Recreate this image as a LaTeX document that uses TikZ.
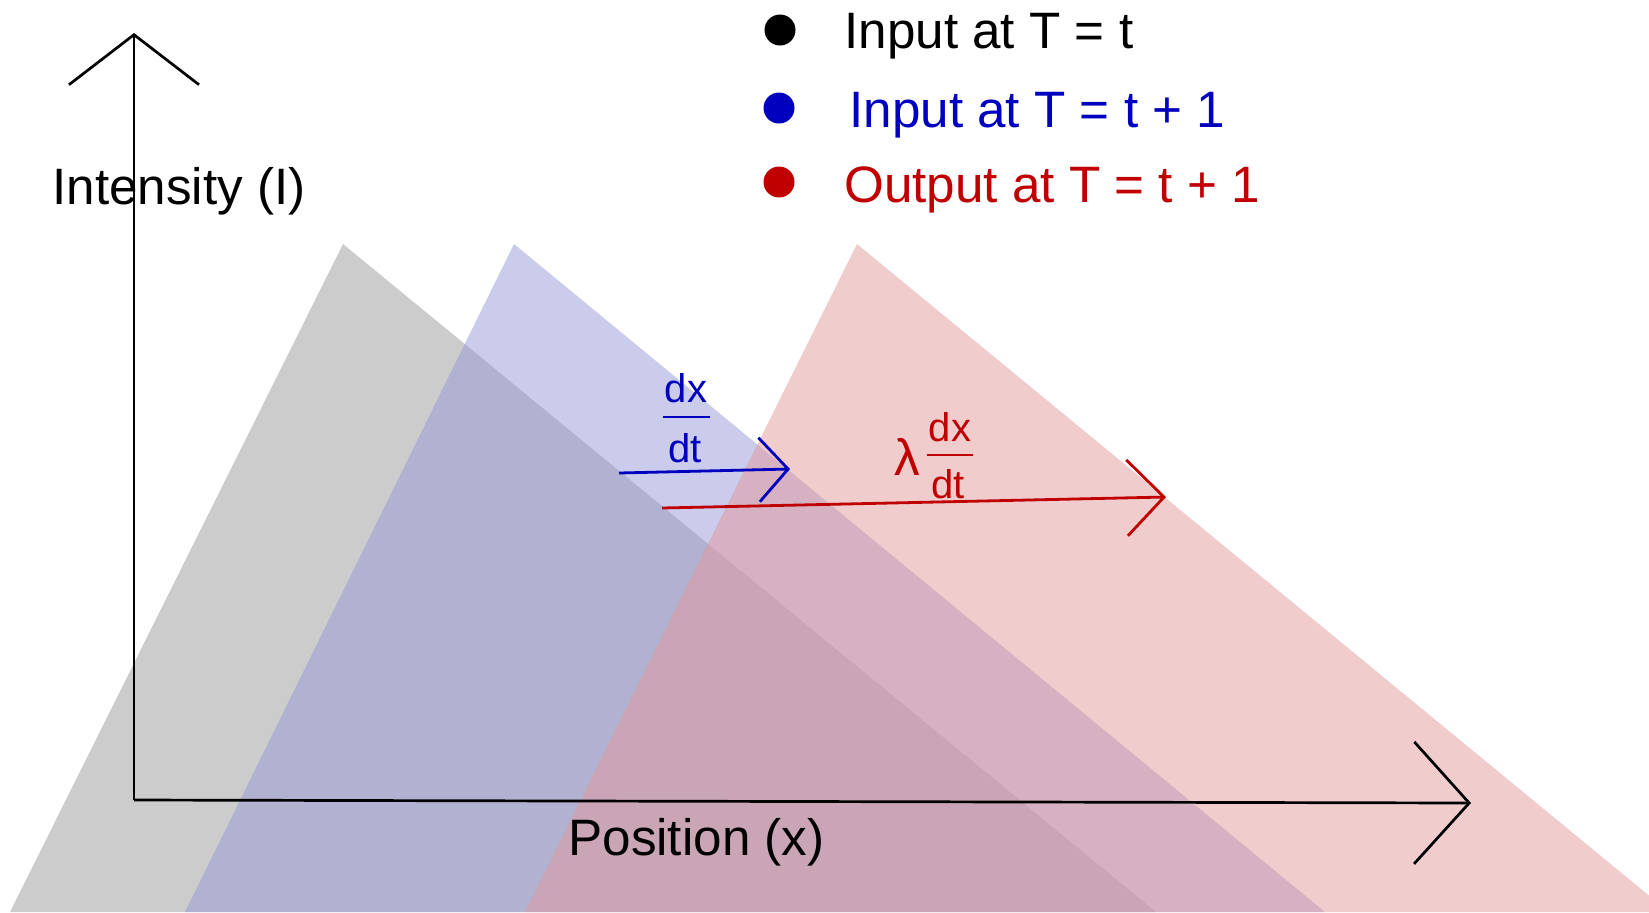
\documentclass[tikz,border=0pt]{standalone}
\usepackage{fontspec}
\setmainfont{Liberation Sans}
\usetikzlibrary{arrows.meta}
\definecolor{wedgegray}{RGB}{153,153,153}
\definecolor{wedgeblue}{RGB}{151,151,217}
\definecolor{wedgered}{RGB}{225,153,153}
\definecolor{inkblue}{RGB}{0,0,190}
\definecolor{inkred}{RGB}{192,0,0}

\begin{document}
\begin{tikzpicture}[x=0.5pt, y=-0.5pt,
    every node/.style={inner sep=0pt, font=\fontsize{25.6}{30}\selectfont},
    wedge/.style={fill opacity=0.5, draw=none},
    legdot/.style={circle, minimum size=15.5pt},
    fracfont/.style={font=\fontsize{20}{24}\selectfont},
    axisline/.style={line width=1.35pt}]
    \useasboundingbox (0,0) rectangle (1649,912);
    \clip (0,0) rectangle (1649,912);
    \fill[wedge, wedgegray] (343,244) -- (10,912) -- (1156,912) -- cycle;
    \fill[wedge, wedgeblue] (514,244) -- (185,912) -- (1325,912) -- cycle;
    \fill[wedge, wedgered] (857,244) -- (525,912) -- (1669,912) -- cycle;
    \coordinate (origin) at (134,800);
    \coordinate (ytip) at (134,33);
    \coordinate (xtip) at (1471,803);
    \draw[axisline, -{Straight Barb[length=25pt, width=65pt]}] (origin) -- (ytip);
    \draw[axisline, -{Straight Barb[length=27.5pt, width=61pt]}] (origin) -- (xtip);
    \node[anchor=base west] (ylabel) at (52,204) {Intensity (I)};
    \node[anchor=base west] (xlabel) at (568,855) {Position (x)};
    \node[legdot, fill=black] (dotin) at (780,30) {};
    \node[legdot, fill=inkblue] (dotnext) at (779,108) {};
    \node[legdot, fill=inkred] (dotout) at (779,182) {};
    \node[anchor=base west] (keyin) at (844,48) {Input at T = t};
    \node[anchor=base west, text=inkblue] (keynext) at (849,127) {Input at T = t + 1};
    \node[anchor=base west, text=inkred] (keyout) at (844,202) {Output at T = t + 1};
    \coordinate (bstart) at (619,473);
    \coordinate (bend) at (790,469);
    \draw[inkblue, line width=1.4pt, -{Straight Barb[length=14.5pt, width=32pt]}] (bstart) -- (bend);
    \coordinate (rstart) at (662,508);
    \coordinate (rend) at (1166,497);
    \draw[inkred, line width=1.4pt, -{Straight Barb[length=18.5pt, width=38pt]}] (rstart) -- (rend);
    \node[fracfont, anchor=base, text=inkblue] (bdx) at (686,402) {dx};
    \node[fracfont, anchor=base, text=inkblue] (bdt) at (685,462) {dt};
    \draw[inkblue, line width=1.35pt] (663,417) -- (710,417);
    \node[anchor=base west, text=inkred] (lam) at (894,475) {λ};
    \node[fracfont, anchor=base, text=inkred] (rdx) at (950,441) {dx};
    \node[fracfont, anchor=base, text=inkred] (rdt) at (948,498) {dt};
    \draw[inkred, line width=1.35pt] (927,455) -- (973,455);
\end{tikzpicture}
\end{document}
